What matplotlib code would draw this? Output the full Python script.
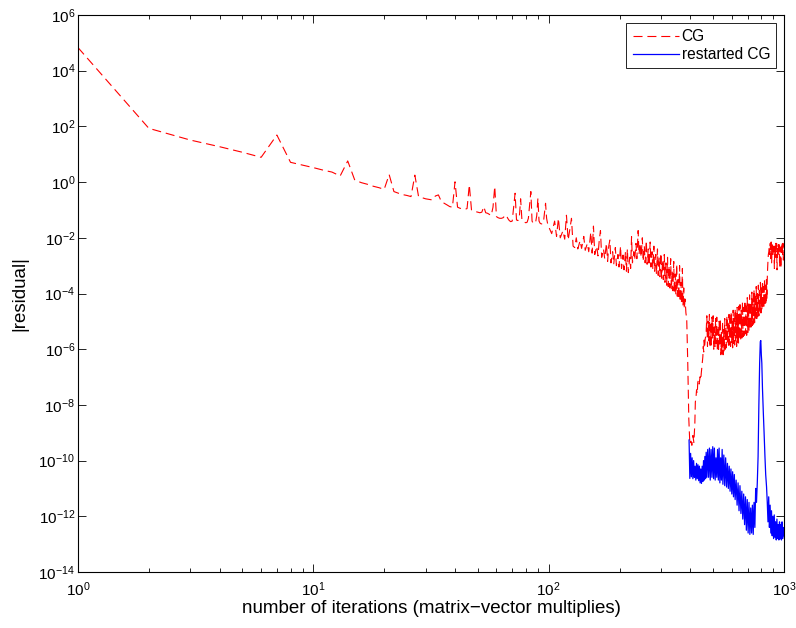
import matplotlib
matplotlib.use("Agg")
import matplotlib.pyplot as plt
import numpy as np
from matplotlib.ticker import LogLocator, NullLocator

plt.rcParams["font.family"] = ["Liberation Sans", "DejaVu Sans"]
plt.rcParams["mathtext.default"] = "regular"
plt.rcParams["lines.scale_dashes"] = False

# CG residual as (iteration, log10 |residual|)
cg_iter = [
    1, 2, 3, 4, 5, 6, 7, 8, 9, 10, 11, 12, 13, 14, 15, 16, 17, 18, 19, 20,
    21, 22, 23, 24, 25, 26, 27, 28, 29, 30, 31, 32, 33, 34, 35, 36, 37, 38, 39, 40,
    41, 42, 43, 44, 45, 46, 47, 48, 49, 50, 51, 52, 53, 54, 55, 56, 57, 58, 59, 60,
    61, 62, 63, 64, 65, 66, 67, 68, 69, 70, 71, 72, 73, 74, 75, 76, 77, 78, 79, 80,
    81, 82, 83, 84, 85, 86, 87, 88, 89, 90, 91, 92, 93, 94, 95, 96, 97, 98, 99, 100,
    103, 106, 108, 110, 112, 115, 117, 119, 121, 123, 125, 127, 129, 131, 133, 136, 138,
    141, 143, 146, 148, 151, 153, 155, 157, 160, 162, 164, 166, 168, 171, 173, 176, 178,
    180, 182, 184, 187, 189, 192, 194, 197, 199, 202, 204, 207, 209, 212, 214, 216, 218,
    221, 223, 225, 227, 230, 232, 235, 237, 240, 242, 245, 247, 250, 252, 255, 257, 260,
    262, 265, 267, 270, 272, 275, 277, 280, 282, 285, 287, 290, 292, 295, 297, 300, 302,
    305, 307, 310, 312, 315, 317, 320, 322, 325, 327, 330, 332, 335, 337, 340, 342, 345,
    347, 350, 352, 355, 357, 360, 362, 365, 367, 370, 372, 375, 377, 380, 383, 386, 390,
    394, 398, 402, 406, 410, 414, 418, 420, 423, 425, 428, 430, 433, 436, 440, 443, 445,
    448, 450, 452, 454, 456, 458, 460, 463, 466,
    470, 473, 476, 479, 482, 485, 488, 491, 494, 497, 500, 503, 506, 509, 512, 515,
    518, 521, 524, 527, 530, 533, 536, 539, 542, 545, 548, 551, 554, 557, 560, 563,
    566, 569, 572, 575, 578, 581, 584, 587, 590, 593, 596, 599, 602, 605, 608, 611,
    614, 617, 620, 623, 626, 629, 632, 635, 638, 641, 644, 647,
    650, 654, 658, 662, 666, 670, 674, 678, 682, 686, 690, 694, 698, 702, 706, 710,
    714, 718, 722, 726, 730, 734, 738, 742, 746, 750, 754, 758, 762, 766, 770, 774,
    778, 782, 786, 790, 794, 798, 802, 806, 810, 814, 818, 822, 826, 830, 834, 838,
    842, 846, 850,
    854, 858, 862, 866, 870, 874, 878, 882, 886, 890, 894, 898, 902, 906, 910, 914,
    918, 922, 926, 930, 934, 938, 942, 946, 950, 954, 958, 962, 966, 970, 974, 978,
    982, 986, 990, 994, 1000,
]
cg_log10 = [
    4.83, 1.93, 1.51, 1.27, 1.07, 0.89, 1.69, 0.71, 0.61, 0.52, 0.43, 0.36, 0.22, 0.76,
    0.07, -0.02, -0.08, -0.15, -0.2, -0.26,
    0.27, -0.34, -0.4, -0.45, -0.48, -0.52, 0.25, -0.52, -0.56, -0.6, -0.62, -0.64, -0.5,
    -0.46, -0.7, -0.76, -0.82, -0.88, -0.9, 0.01,
    -0.9, -0.94, -0.96, -0.98, -0.95, -0.1, -1.0, -1.04, -1.06, -1.08, -1.1, -1.08, -0.88,
    -1.1, -1.12, -1.16, -1.2, -0.9, -0.16, -1.24,
    -1.28, -1.3, -1.3, -1.28, -1.22, -1.18, -1.3, -1.38, -1.42, -1.4, -0.9, -0.4, -1.36,
    -1.38, -1.3, -0.6, -1.38, -1.42, -1.44, -1.46,
    -1.44, -1.3, -0.8, -0.34, -1.4, -1.48, -1.48, -1.45, -1.2, -0.58, -1.4, -1.48, -1.5,
    -1.5, -1.45, -1.1, -0.76, -1.3, -1.5, -1.6,
    -1.85, -1.4, -1.95, -1.3, -2.0, -1.75, -2.05, -1.19, -2.08, -1.7, -1.3, -2.3, -2.35,
    -2.0, -2.4, -2.1, -2.38,
    -1.95, -2.45, -2.2, -2.5, -1.8, -2.55, -1.58, -2.6, -2.3, -2.65, -2.1, -1.74, -2.7,
    -2.4, -2.75, -2.2, -2.85,
    -2.3, -2.08, -2.9, -2.5, -2.95, -2.35, -3.0, -2.6, -3.05, -2.3, -3.1, -2.62, -3.15,
    -2.5, -3.2, -2.4, -3.25,
    -2.7, -3.1, -1.96, -2.9, -2.5, -2.8, -2.2, -2.75, -1.74, -2.6, -2.2, -2.7, -2.0,
    -2.85, -2.3, -2.9, -2.1,
    -2.95, -2.4, -3.0, -2.15, -3.05, -2.5, -3.1, -2.3, -3.2, -2.6, -3.3, -2.4, -3.35,
    -2.7, -3.4, -2.55, -3.45,
    -2.8, -3.5, -2.6, -3.6, -2.9, -3.7, -2.7, -3.75, -3.0, -3.8, -2.75, -3.85, -3.2,
    -3.9, -2.85, -4.0, -3.3,
    -4.05, -2.95, -4.1, -3.5, -4.2, -3.0, -4.3, -3.6, -4.35, -3.1, -4.45, -3.8, -4.55,
    -4.2, -4.7, -4.9, -6.5,
    -8.5, -9.4, -9.3, -9.45, -9.1, -9.35, -8.66, -7.9, -7.7, -7.46, -7.6, -7.2, -7.1,
    -7.25, -6.99, -7.1, -6.87,
    -6.6, -6.4, -6.27, -5.9, -6.1, -5.67, -5.9, -5.6, -5.55,
    -4.8, -5.9, -5.0, -5.7, -4.75, -5.95, -5.1, -5.85, -4.85, -5.6, -4.8, -6.0, -5.2,
    -5.9, -4.9, -5.8,
    -4.85, -6.05, -5.3, -6.1, -5.0, -5.9, -4.9, -6.2, -5.4, -6.15, -5.0, -6.2, -5.3,
    -6.1, -4.9, -6.0,
    -5.2, -5.95, -4.8, -5.8, -5.1, -5.95, -4.75, -5.85, -4.9, -5.9, -4.65, -5.75, -5.0,
    -5.95, -4.6, -5.8,
    -4.9, -5.85, -4.55, -5.7, -4.8, -5.9, -4.5, -5.75, -4.75, -5.8, -4.45, -5.65,
    -4.4, -5.7, -4.6, -5.6, -4.3, -5.55, -4.5, -5.5, -4.25, -5.45, -4.45, -5.5, -4.15,
    -5.4, -4.35, -5.35,
    -4.05, -5.3, -4.3, -5.2, -3.95, -5.15, -4.2, -5.1, -3.85, -5.05, -4.1, -4.95, -3.75,
    -4.9, -4.0, -4.85,
    -3.7, -4.8, -3.9, -4.7, -3.6, -4.7, -3.8, -4.6, -3.55, -4.55, -3.75, -4.5, -3.5,
    -4.45, -3.7, -4.4,
    -3.5, -4.2, -3.3,
    -2.9, -2.6, -2.5, -2.3, -2.6, -2.2, -2.75, -2.15, -2.9, -2.25, -2.6, -2.2, -2.5,
    -2.25, -3.1, -2.3,
    -2.7, -2.2, -2.5, -2.2, -3.15, -2.3, -2.6, -2.25, -2.55, -2.25, -3.05, -2.35, -2.6,
    -3.1, -2.3, -2.55,
    -2.2, -2.6, -2.2, -2.8, -2.44,
]

# restarted CG residual
rcg_iter = [
    395, 398, 401, 404, 407, 410, 413, 416, 419, 422, 425, 428, 431, 434, 437, 440,
    443, 446, 449, 452, 455, 458, 461, 464, 467, 470, 474, 478, 482, 486, 490, 494,
    498, 502, 506, 510, 514, 518, 522, 526, 530, 534, 538, 542, 546, 550, 555, 560,
    565, 570, 575, 580, 585, 590, 595, 600, 605, 610, 615, 620, 626, 632, 638, 644,
    650, 656, 662, 668, 674, 680, 686, 692, 698, 704, 710, 716, 722, 728, 734, 740,
    746, 752, 758, 764, 770, 776, 782, 788, 793, 797, 801, 805, 810, 817, 823, 830,
    836, 843, 849, 855, 861, 867, 873, 879, 885, 891, 897, 903, 909, 915, 921, 927,
    933, 939, 945, 951, 957, 963, 969, 975, 981, 987, 993, 1000,
]
rcg_log10 = [
    -9.26, -10.64, -9.74, -10.58, -9.9, -10.65, -10.0, -10.6, -10.2, -10.7, -10.1,
    -10.65, -10.15, -10.72, -10.2, -10.8,
    -10.3, -10.82, -10.2, -10.75, -10.0, -10.7, -9.85, -10.65, -9.7, -10.6, -9.6,
    -10.6, -9.55, -10.7, -9.6, -10.6,
    -9.5, -10.65, -9.55, -10.7, -9.9, -10.6, -9.6, -10.7, -9.55, -10.8, -9.9, -10.7,
    -9.6, -10.85, -9.8, -10.9,
    -9.9, -10.95, -10.1, -11.0, -10.2, -11.1, -10.3, -11.2, -10.4, -11.3, -10.5,
    -11.4, -10.7, -11.6, -10.8, -11.8,
    -10.9, -11.9, -11.1, -12.1, -11.2, -12.3, -11.3, -12.5, -11.4, -12.6, -11.5,
    -12.65, -11.7, -12.6, -11.6, -12.65,
    -11.5, -12.4, -11.0, -11.5, -10.8, -9.86, -8.0, -6.5, -5.73, -5.69, -6.2, -6.5,
    -7.4, -8.3, -9.0, -9.86,
    -10.5, -10.94, -11.5, -12.2, -11.3, -12.4, -11.6, -12.6, -11.8, -12.7, -12.0,
    -12.8, -11.95, -12.75, -12.2, -12.85,
    -12.1, -12.8, -12.3, -12.85, -12.2, -12.8, -12.3, -12.85, -12.2, -12.8, -12.4, -12.7,
]

y_ticks = [10.0 ** k for k in range(-14, 7, 2)]

fig = plt.figure(figsize=(7.96, 6.28), dpi=100)
ax = fig.add_axes([78 / 796, 56 / 628, 706 / 796, 557 / 628])

ax.loglog(cg_iter, 10.0 ** np.array(cg_log10), color="red", lw=0.8,
          dashes=(6.5, 3.5), label="CG")
ax.loglog(rcg_iter, 10.0 ** np.array(rcg_log10), color="blue", lw=0.9,
          label="restarted CG")

ax.set_xlim(1, 1000)
ax.set_ylim(1e-14, 1e6)
ax.set_yticks(y_ticks)
ax.yaxis.set_minor_locator(NullLocator())
ax.xaxis.set_minor_locator(LogLocator(base=10, subs=range(2, 10)))

ax.tick_params(which="both", direction="in", top=True, right=True,
               labelsize=11, width=0.6)
ax.tick_params(which="major", length=5.5)
ax.tick_params(axis="x", which="major", pad=6)
ax.tick_params(axis="y", which="major", pad=2)
ax.tick_params(which="minor", length=3)
for spine in ax.spines.values():
    spine.set_linewidth(0.8)

ax.set_xlabel("number of iterations (matrix\u2212vector multiplies)", fontsize=13.5,
              labelpad=1)
ax.set_ylabel("|residual|", fontsize=13.5, labelpad=7)

leg = ax.legend(loc="upper right", bbox_to_anchor=(0.989, 0.986), borderaxespad=0,
                fontsize=11.2, handlelength=3.0, handletextpad=0.15,
                fancybox=False, framealpha=1, edgecolor="black",
                borderpad=0.4, labelspacing=0.2)
leg.get_frame().set_linewidth(0.6)

fig.savefig("out.png", dpi=100)
